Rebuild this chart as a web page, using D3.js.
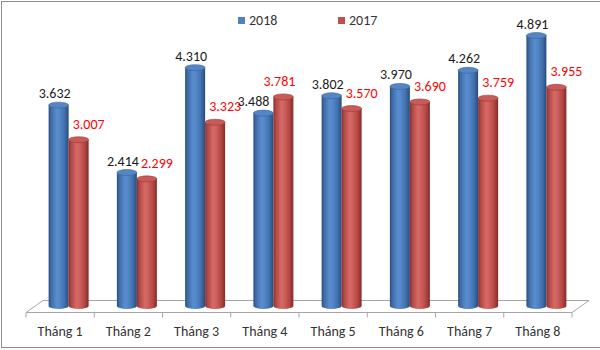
<!DOCTYPE html>
<html>
<head>
<meta charset="utf-8">
<script src="https://cdn.jsdelivr.net/npm/d3@7"></script>
<style>
  html, body { margin: 0; padding: 0; background: #fff; }
  svg { display: block; font-family: Carlito, Lato, "Open Sans", sans-serif; }
</style>
</head>
<body>
<svg id="chart" width="600" height="350"></svg>
<script>
// ---- data ----
const categories = ["Tháng 1", "Tháng 2", "Tháng 3", "Tháng 4", "Tháng 5", "Tháng 6", "Tháng 7", "Tháng 8"];
const seriesNames = ["2018", "2017"];
const values2018 = [3632, 2414, 4310, 3488, 3802, 3970, 4262, 4891];
const values2017 = [3007, 2299, 3323, 3781, 3570, 3690, 3759, 3955];
const labels2018 = ["3.632", "2.414", "4.310", "3.488", "3.802", "3.970", "4.262", "4.891"];
const labels2017 = ["3.007", "2.299", "3.323", "3.781", "3.570", "3.690", "3.759", "3.955"];

const seriesValues = { "2018": values2018, "2017": values2017 };
const seriesLabels = { "2018": labels2018, "2017": labels2017 };

const svg = d3.select("#chart");
const W = 600, H = 350;

// outer border (right edge falls outside the canvas, as in the reference)
svg.append("rect").attr("x", 1.5).attr("y", 1.5).attr("width", W + 5).attr("height", 346)
  .attr("fill", "#fff").attr("stroke", "#8c8c8c").attr("stroke-width", 1);

// ---- scales ----
const depthX = 17, depthY = -12;
const floorFrontY = 312.5;
const x = d3.scaleBand().domain(categories).range([26, 572]).paddingInner(0).paddingOuter(0);
const xs = d3.scaleBand().domain(seriesNames).range([-20, 20]);
const y = d3.scaleLinear().domain([0, 5000]).range([306, 306 - 5000 * 0.0553]);

// ---- gradients ----
const defs = svg.append("defs");
const palettes = {
  "2018": { body: [["0%", "#2a4f80"], ["12%", "#3e6ba6"], ["40%", "#5a8dcf"], ["55%", "#5487c8"], ["80%", "#4070ad"], ["100%", "#284b7a"]],
            top: "#5585c3", topStroke: "#3a659c", legend: "#4f81bd", text: "#1a1a1a" },
  "2017": { body: [["0%", "#8a2c2a"], ["12%", "#b04744"], ["40%", "#d56a67"], ["55%", "#cf605d"], ["80%", "#b24845"], ["100%", "#852a28"]],
            top: "#c85a57", topStroke: "#973a38", legend: "#c0504d", text: "#ff0000" }
};
seriesNames.forEach((s, i) => {
  const g = defs.append("linearGradient").attr("id", "grad" + i).attr("x1", "0%").attr("x2", "100%").attr("y1", "0%").attr("y2", "0%");
  palettes[s].body.forEach(([o, c]) => g.append("stop").attr("offset", o).attr("stop-color", c));
});

// ---- floor ----
const x0 = x.range()[0], x1 = x.range()[1];
svg.append("path")
  .attr("d", `M${x0},${floorFrontY} L${x0 + depthX},${floorFrontY + depthY} L${x1 + depthX},${floorFrontY + depthY} L${x1},${floorFrontY} Z`)
  .attr("fill", "#fff").attr("stroke", "#a6a6a6").attr("stroke-width", 1);

// category tick marks
const tickXs = categories.map(c => x(c)).concat([x1]);
svg.append("g").selectAll("line").data(tickXs).join("line")
  .attr("x1", d => d).attr("x2", d => d)
  .attr("y1", floorFrontY).attr("y2", floorFrontY + 5)
  .attr("stroke", "#a6a6a6");

// category labels
svg.append("g").selectAll("text").data(categories).join("text")
  .attr("x", d => x(d) + x.bandwidth() / 2)
  .attr("y", 335.5)
  .attr("text-anchor", "middle")
  .attr("font-size", 14)
  .attr("fill", "#333")
  .text(d => d);

// ---- cylinders ----
const r = 10, ry = 3;
const barData = [];
categories.forEach((c, ci) => {
  seriesNames.forEach((s, si) => {
    barData.push({ cat: c, ci, s, si, v: seriesValues[s][ci], label: seriesLabels[s][ci] });
  });
});
const cx = d => x(d.cat) + x.bandwidth() / 2 + depthX / 2 + xs(d.s) + xs.bandwidth() / 2;
const bars = svg.append("g").selectAll("g").data(barData).join("g");
bars.append("path")
  .attr("d", d => {
    const c = cx(d), yt = y(d.v), yb = y(0);
    return `M${c - r},${yt} L${c - r},${yb} A${r},${ry} 0 0 0 ${c + r},${yb} L${c + r},${yt} Z`;
  })
  .attr("fill", d => `url(#grad${d.si})`);
bars.append("ellipse")
  .attr("cx", d => cx(d)).attr("cy", d => y(d.v))
  .attr("rx", r).attr("ry", ry)
  .attr("fill", d => palettes[d.s].top)
  .attr("stroke", d => palettes[d.s].topStroke).attr("stroke-width", 0.6);

// ---- value labels ----
svg.append("g").selectAll("text").data(barData).join("text")
  .attr("x", d => {
    const other = seriesValues[d.s === "2018" ? "2017" : "2018"][d.ci];
    if (d.s === "2018") return cx(d) - (other > d.v ? 10 : 4);
    return cx(d) + (d.v > values2018[d.ci] ? -4 : 10);
  })
  .attr("y", d => y(d.v) - ry - (d.s === "2018" ? 4 : 8))
  .attr("text-anchor", "middle")
  .attr("font-size", 14)
  .attr("fill", d => palettes[d.s].text)
  .text(d => d.label);

// ---- legend ----
const legendX = d3.scaleOrdinal().domain(seriesNames).range([238, 338]);
const lg = svg.append("g").selectAll("g").data(seriesNames).join("g")
  .attr("transform", d => `translate(${legendX(d)},17)`);
lg.append("rect").attr("width", 7).attr("height", 7)
  .attr("fill", d => palettes[d].legend);
lg.append("text").attr("x", 11).attr("y", 8).attr("font-size", 14).attr("fill", "#333")
  .text(d => d);
</script>
</body>
</html>
